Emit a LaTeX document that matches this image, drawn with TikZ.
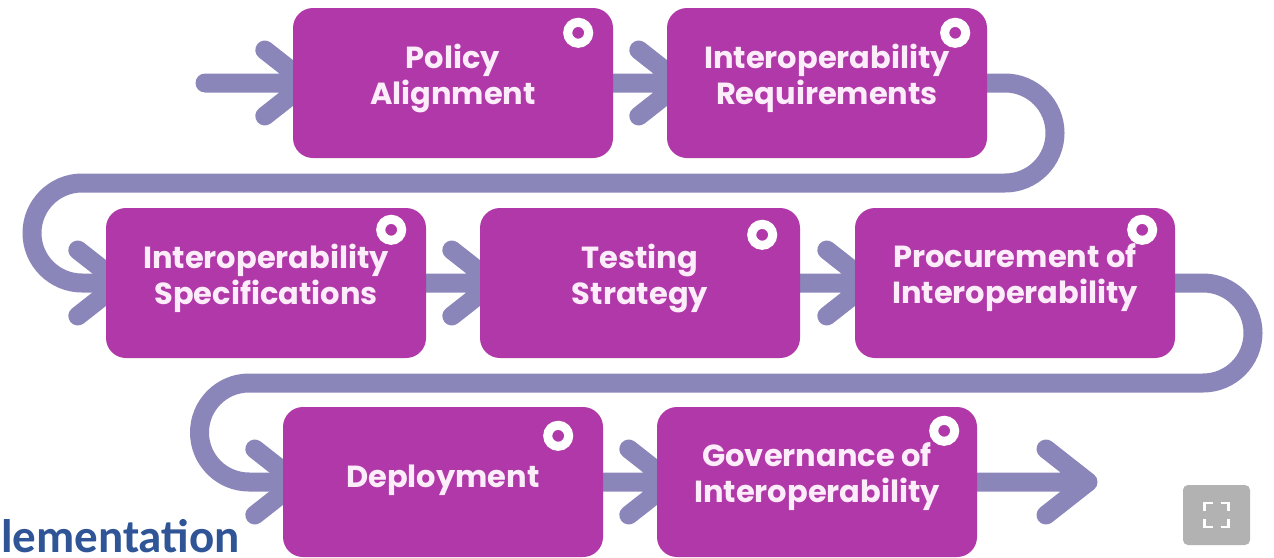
\documentclass[tikz,border=0pt]{standalone}
\usepackage{fontspec}
\setmainfont{Poppins}
\newfontfamily\blufont{Carlito}
\usetikzlibrary{backgrounds,calc}
\definecolor{boxc}{RGB}{176,56,168}
\definecolor{trackc}{RGB}{139,134,186}
\definecolor{txtc}{RGB}{253,236,250}
\definecolor{bluec}{RGB}{47,85,151}
\definecolor{iconc}{RGB}{178,178,178}
\begin{document}
\begin{tikzpicture}[x=1pt,y=-1pt,
  stepbox/.style={draw=none, fill=boxc, rounded corners=20pt, minimum width=320pt, minimum height=150pt, inner sep=0pt},
  lbl/.style={text=txtc, font=\fontsize{30.5}{36}\selectfont\bfseries, align=center, inner sep=0pt},
  ring/.style={circle, draw=white, line width=9pt, fill=boxc, minimum size=21pt, inner sep=0pt},
  track/.style={draw=trackc, line width=19pt, line cap=round, line join=round},
  iconbox/.style={draw=none, fill=iconc, rounded corners=5pt, minimum width=67pt, minimum height=60pt, inner sep=0pt},
  bracket/.style={draw=white, line width=2.5pt},
]
\useasboundingbox (0,0) rectangle (1274,557);

% boxes
\node[stepbox] (b1) at (453,83) {};
\node[stepbox] (b2) at (827,83) {};
\node[stepbox] (b3) at (266,283) {};
\node[stepbox] (b4) at (640,283) {};
\node[stepbox] (b5) at (1015,283) {};
\node[stepbox] (b6) at (443,482) {};
\node[stepbox] (b7) at (817,482) {};

% labels
\node[lbl] (t1) at ($(b1.center)+(0,-5)$) {Policy\\Alignment};
\node[lbl] (t2) at ($(b2.center)+(0,-5)$) {Interoperability\\Requirements};
\node[lbl] (t3) at ($(b3.center)+(0,-5)$) {Interoperability\\Specifications};
\node[lbl] (t4) at ($(b4.center)+(0,-5)$) {Testing\\Strategy};
\node[lbl] (t5) at ($(b5.center)+(0,-5)$) {Procurement of\\Interoperability};
\node[lbl] (t6) at ($(b6.center)+(0,-2)$) {Deployment};
\node[lbl] (t7) at ($(b7.center)+(0,-5)$) {Governance of\\Interoperability};

% rings
\node[ring] (r1) at ($(b1.north east)+(-35,25)$) {};
\node[ring] (r2) at ($(b2.north east)+(-32,25)$) {};
\node[ring] (r3) at ($(b3.north east)+(-35,22)$) {};
\node[ring] (r4) at ($(b4.north east)+(-38,27)$) {};
\node[ring] (r5) at ($(b5.north east)+(-33,22)$) {};
\node[ring] (r6) at ($(b6.north east)+(-45,29)$) {};
\node[ring] (r7) at ($(b7.north east)+(-33,24)$) {};

% tips
\coordinate (start) at (205,83);
\coordinate (tp1) at ($(b1.west)+(14,0)$);
\coordinate (tp2) at ($(b2.west)+(14,0)$);
\coordinate (tp3) at ($(b3.west)+(14,0)$);
\coordinate (tp4) at ($(b4.west)+(14,0)$);
\coordinate (tp5) at ($(b5.west)+(14,0)$);
\coordinate (tp6) at ($(b6.west)+(14,0)$);
\coordinate (tp7) at ($(b7.west)+(14,0)$);
\coordinate (endp) at (1088,482);

\begin{scope}[on background layer]
  \fill[white] (0,0) rectangle (1274,557);
  \draw[track] (start) -- (tp1) ++(-42,-33) -- (tp1) -- ++(-42,33);
  \draw[track] (b1.east) -- (tp2) ++(-42,-33) -- (tp2) -- ++(-42,33);
  \draw[track] (b2.east) -- (1005,83) arc[start angle=-90, end angle=90, radius=50]
     -- (82,183) arc[start angle=270, end angle=90, radius=50] -- (tp3);
  \draw[track] (tp3) ++(-42,-33) -- (tp3) -- ++(-42,33);
  \draw[track] (b3.east) -- (tp4) ++(-42,-33) -- (tp4) -- ++(-42,33);
  \draw[track] (b4.east) -- (tp5) ++(-42,-33) -- (tp5) -- ++(-42,33);
  \draw[track] (b5.east) -- (1203,283) arc[start angle=-90, end angle=90, radius=50]
     -- (249,383) arc[start angle=270, end angle=90, radius=49.5] -- (tp6);
  \draw[track] (tp6) ++(-42,-33) -- (tp6) -- ++(-42,33);
  \draw[track] (b6.east) -- (tp7) ++(-42,-33) -- (tp7) -- ++(-42,33);
  \draw[track] (b7.east) -- (endp) ++(-42,-33) -- (endp) -- ++(-42,33);
\end{scope}

% clipped caption text
\node[anchor=base west, inner sep=0pt, text=bluec, font=\blufont\bfseries\fontsize{47}{47}\selectfont] (impl) at (1,552) {lementation};

% fullscreen icon
\node[iconbox] (fs) at (1216.5,515) {};
\draw[bracket] ($(fs.center)+(-12,-4)$) -- ++(0,-8) -- ++(8,0);
\draw[bracket] ($(fs.center)+(4,-12)$) -- ++(8,0) -- ++(0,8);
\draw[bracket] ($(fs.center)+(-12,4)$) -- ++(0,8) -- ++(8,0);
\draw[bracket] ($(fs.center)+(4,12)$) -- ++(8,0) -- ++(0,-8);
\end{tikzpicture}
\end{document}
